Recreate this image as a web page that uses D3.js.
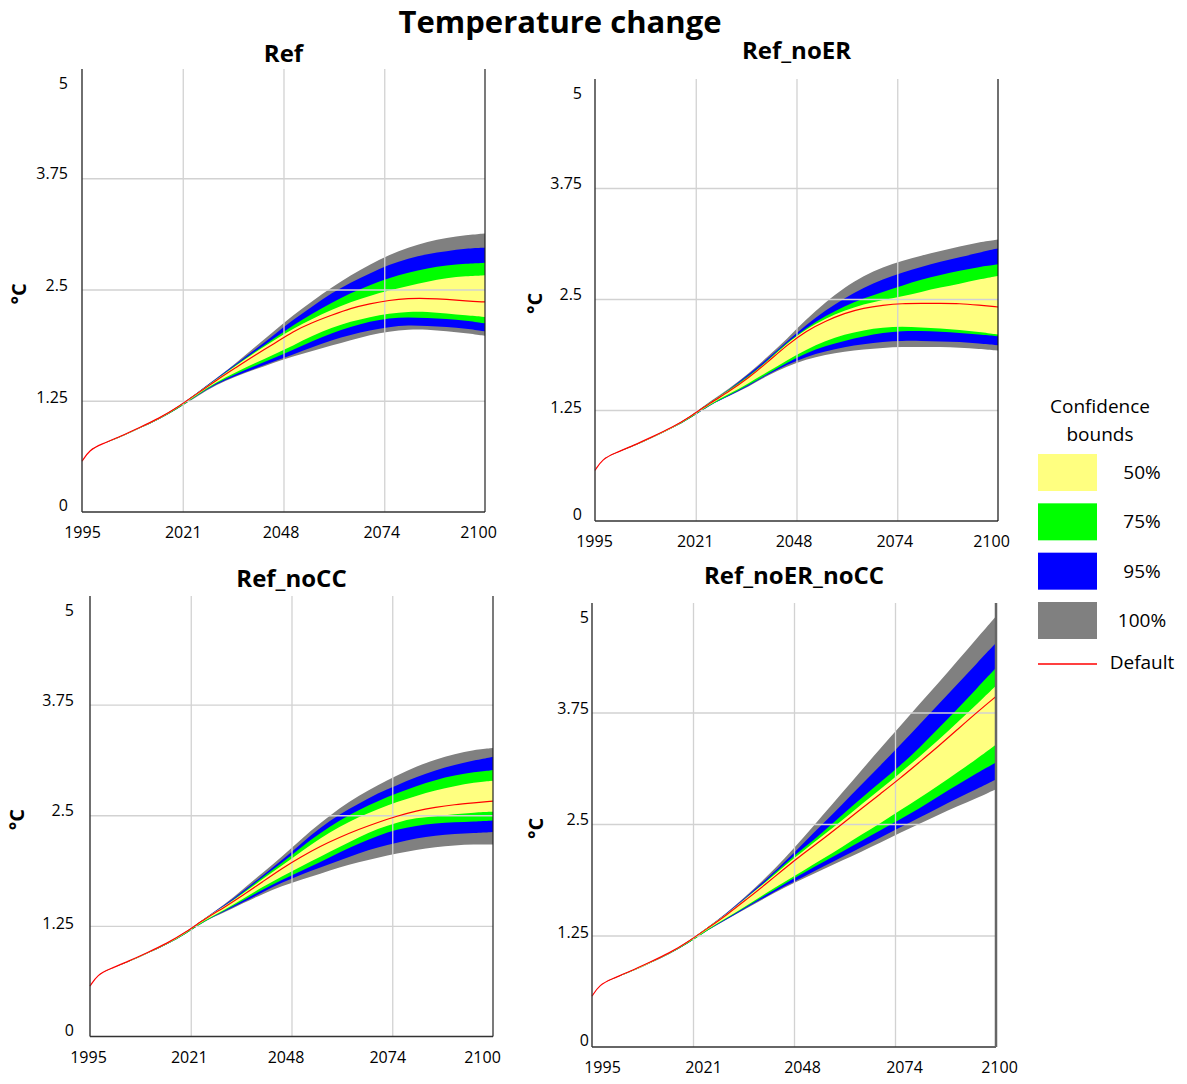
<!DOCTYPE html>
<html lang="en">
  <head>
    <meta charset="UTF-8" />
    <title>Temperature change</title>
    <style>
      body { margin: 0; background: #fff; }
      text { font-family: "Open Sans", sans-serif; fill: #000; }
    </style>
  </head>
  <body>
    <svg id="svg" width="1187" height="1084"></svg>
    <script src="https://d3js.org/d3.v7.min.js"></script>
    <script>
      // years of the sampled values (all series share them)
      const years = [1995, 1997, 2000, 2005, 2010, 2015, 2020, 2025, 2030, 2035, 2040, 2045,
        2050, 2055, 2060, 2065, 2070, 2075, 2080, 2085, 2090, 2095, 2100];

      const xTicks = [1995, 2021.25, 2047.5, 2073.75, 2100];
      const yTicks = [0, 1.25, 2.5, 3.75, 5];
      const yTickLabels = ["0", "1.25", "2.5", "3.75", "5"];

      // legend order
      const boundLabels = ["50%", "75%", "95%", "100%"];
      const boundColors = ["#ffff80", "#00ff00", "#0000ff", "#808080"];

      // Ref
      const refDefault = [0.57, 0.70, 0.76, 0.85, 0.95, 1.05, 1.18, 1.33, 1.48, 1.62, 1.76, 1.89, 2.03, 2.13, 2.21, 2.29, 2.34, 2.38, 2.40, 2.40, 2.39, 2.37, 2.36];
      const refHi100 = [0.57, 0.70, 0.76, 0.85, 0.95, 1.05, 1.18, 1.34, 1.50, 1.67, 1.85, 2.03, 2.21, 2.37, 2.52, 2.66, 2.78, 2.89, 2.97, 3.04, 3.08, 3.11, 3.13];
      const refHi95 = [0.57, 0.70, 0.76, 0.85, 0.95, 1.05, 1.18, 1.34, 1.50, 1.66, 1.82, 1.99, 2.16, 2.31, 2.46, 2.58, 2.68, 2.78, 2.85, 2.90, 2.93, 2.96, 2.97];
      const refHi75 = [0.57, 0.70, 0.76, 0.85, 0.95, 1.05, 1.18, 1.34, 1.49, 1.65, 1.80, 1.95, 2.10, 2.23, 2.35, 2.46, 2.55, 2.63, 2.69, 2.74, 2.77, 2.79, 2.80];
      const refHi50 = [0.57, 0.70, 0.76, 0.85, 0.95, 1.05, 1.18, 1.34, 1.49, 1.64, 1.79, 1.93, 2.06, 2.17, 2.27, 2.36, 2.43, 2.49, 2.54, 2.59, 2.63, 2.65, 2.66];
      const refLo50 = [0.57, 0.70, 0.76, 0.84, 0.94, 1.04, 1.17, 1.32, 1.46, 1.57, 1.67, 1.77, 1.87, 1.98, 2.07, 2.14, 2.19, 2.23, 2.25, 2.25, 2.23, 2.21, 2.19];
      const refLo75 = [0.57, 0.70, 0.76, 0.84, 0.94, 1.04, 1.16, 1.31, 1.45, 1.55, 1.64, 1.73, 1.82, 1.92, 2.01, 2.08, 2.14, 2.18, 2.19, 2.18, 2.17, 2.15, 2.12];
      const refLo95 = [0.57, 0.70, 0.76, 0.84, 0.94, 1.04, 1.16, 1.31, 1.44, 1.53, 1.61, 1.69, 1.77, 1.85, 1.93, 1.99, 2.04, 2.08, 2.10, 2.09, 2.08, 2.06, 2.03];
      const refLo100 = [0.57, 0.70, 0.76, 0.84, 0.94, 1.04, 1.16, 1.30, 1.43, 1.52, 1.60, 1.68, 1.75, 1.81, 1.87, 1.93, 1.99, 2.03, 2.05, 2.05, 2.03, 2.01, 1.98];

      // Ref_noER
      const noERDefault = [0.57, 0.70, 0.76, 0.85, 0.95, 1.05, 1.18, 1.33, 1.46, 1.61, 1.79, 1.98, 2.14, 2.25, 2.34, 2.40, 2.43, 2.45, 2.45, 2.45, 2.45, 2.43, 2.41];
      const noERHi100 = [0.57, 0.70, 0.76, 0.85, 0.95, 1.05, 1.18, 1.35, 1.49, 1.66, 1.85, 2.05, 2.27, 2.46, 2.63, 2.76, 2.86, 2.93, 2.99, 3.04, 3.09, 3.14, 3.17];
      const noERHi95 = [0.57, 0.70, 0.76, 0.85, 0.95, 1.05, 1.18, 1.34, 1.48, 1.65, 1.83, 2.02, 2.21, 2.37, 2.51, 2.63, 2.72, 2.80, 2.86, 2.92, 2.97, 3.02, 3.07];
      const noERHi75 = [0.57, 0.70, 0.76, 0.85, 0.95, 1.05, 1.18, 1.34, 1.48, 1.63, 1.81, 2.01, 2.17, 2.31, 2.42, 2.51, 2.58, 2.65, 2.72, 2.77, 2.82, 2.86, 2.89];
      const noERHi50 = [0.57, 0.70, 0.76, 0.85, 0.95, 1.05, 1.18, 1.34, 1.47, 1.62, 1.80, 2.00, 2.16, 2.28, 2.37, 2.44, 2.49, 2.53, 2.58, 2.63, 2.67, 2.72, 2.76];
      const noERLo50 = [0.57, 0.70, 0.76, 0.84, 0.94, 1.04, 1.17, 1.32, 1.43, 1.55, 1.68, 1.81, 1.93, 2.03, 2.10, 2.15, 2.18, 2.19, 2.18, 2.17, 2.15, 2.13, 2.10];
      const noERLo75 = [0.57, 0.70, 0.76, 0.84, 0.94, 1.04, 1.16, 1.31, 1.42, 1.53, 1.66, 1.78, 1.89, 1.97, 2.03, 2.08, 2.12, 2.14, 2.14, 2.13, 2.12, 2.10, 2.08];
      const noERLo95 = [0.57, 0.70, 0.76, 0.84, 0.94, 1.04, 1.16, 1.31, 1.41, 1.52, 1.65, 1.76, 1.85, 1.91, 1.96, 1.99, 2.02, 2.03, 2.03, 2.02, 2.02, 2.00, 1.98];
      const noERLo100 = [0.57, 0.70, 0.76, 0.84, 0.94, 1.04, 1.16, 1.31, 1.41, 1.51, 1.64, 1.74, 1.82, 1.87, 1.91, 1.93, 1.95, 1.96, 1.96, 1.96, 1.95, 1.94, 1.92];

      // Ref_noCC
      const noCCDefault = [0.57, 0.70, 0.76, 0.85, 0.95, 1.05, 1.18, 1.33, 1.46, 1.60, 1.75, 1.90, 2.03, 2.15, 2.25, 2.34, 2.42, 2.49, 2.55, 2.59, 2.62, 2.64, 2.66];
      const noCCHi100 = [0.57, 0.70, 0.76, 0.85, 0.95, 1.05, 1.18, 1.34, 1.49, 1.67, 1.85, 2.03, 2.23, 2.41, 2.58, 2.72, 2.84, 2.95, 3.05, 3.13, 3.19, 3.24, 3.26];
      const noCCHi95 = [0.57, 0.70, 0.76, 0.85, 0.95, 1.05, 1.18, 1.34, 1.48, 1.65, 1.82, 1.99, 2.18, 2.36, 2.51, 2.63, 2.75, 2.84, 2.93, 3.01, 3.07, 3.12, 3.16];
      const noCCHi75 = [0.57, 0.70, 0.76, 0.85, 0.95, 1.05, 1.18, 1.34, 1.47, 1.63, 1.80, 1.96, 2.14, 2.30, 2.44, 2.56, 2.66, 2.75, 2.83, 2.90, 2.95, 2.99, 3.01];
      const noCCHi50 = [0.57, 0.70, 0.76, 0.85, 0.95, 1.05, 1.18, 1.34, 1.47, 1.62, 1.78, 1.93, 2.09, 2.24, 2.37, 2.48, 2.57, 2.65, 2.72, 2.78, 2.83, 2.87, 2.89];
      const noCCLo50 = [0.57, 0.70, 0.76, 0.84, 0.94, 1.04, 1.17, 1.32, 1.43, 1.56, 1.69, 1.81, 1.92, 2.03, 2.14, 2.25, 2.35, 2.42, 2.47, 2.49, 2.51, 2.53, 2.54];
      const noCCLo75 = [0.57, 0.70, 0.76, 0.84, 0.94, 1.04, 1.16, 1.31, 1.42, 1.54, 1.66, 1.77, 1.87, 1.97, 2.08, 2.18, 2.27, 2.34, 2.38, 2.41, 2.42, 2.43, 2.44];
      const noCCLo95 = [0.57, 0.70, 0.76, 0.84, 0.94, 1.04, 1.16, 1.31, 1.41, 1.52, 1.63, 1.74, 1.83, 1.91, 1.99, 2.07, 2.14, 2.19, 2.24, 2.27, 2.29, 2.30, 2.31];
      const noCCLo100 = [0.57, 0.70, 0.76, 0.84, 0.94, 1.04, 1.16, 1.31, 1.40, 1.51, 1.61, 1.70, 1.77, 1.84, 1.91, 1.97, 2.02, 2.07, 2.11, 2.14, 2.16, 2.17, 2.17];

      // Ref_noER_noCC
      const bothDefault = [0.57, 0.70, 0.76, 0.85, 0.95, 1.05, 1.18, 1.33, 1.48, 1.65, 1.82, 2.00, 2.17, 2.33, 2.50, 2.67, 2.84, 3.01, 3.19, 3.37, 3.56, 3.75, 3.93];
      const bothHi100 = [0.57, 0.70, 0.76, 0.85, 0.95, 1.05, 1.18, 1.34, 1.50, 1.69, 1.89, 2.11, 2.35, 2.60, 2.85, 3.10, 3.35, 3.59, 3.84, 4.08, 4.33, 4.58, 4.83];
      const bothHi95 = [0.57, 0.70, 0.76, 0.85, 0.95, 1.05, 1.18, 1.34, 1.50, 1.68, 1.87, 2.07, 2.29, 2.50, 2.72, 2.94, 3.16, 3.38, 3.61, 3.84, 4.07, 4.30, 4.53];
      const bothHi75 = [0.57, 0.70, 0.76, 0.85, 0.95, 1.05, 1.18, 1.34, 1.49, 1.67, 1.85, 2.05, 2.23, 2.41, 2.60, 2.79, 2.97, 3.15, 3.35, 3.57, 3.79, 4.02, 4.25];
      const bothHi50 = [0.57, 0.70, 0.76, 0.85, 0.95, 1.05, 1.18, 1.34, 1.49, 1.67, 1.84, 2.03, 2.20, 2.37, 2.54, 2.72, 2.89, 3.07, 3.25, 3.44, 3.64, 3.84, 4.05];
      const bothLo50 = [0.57, 0.70, 0.76, 0.84, 0.94, 1.04, 1.17, 1.32, 1.45, 1.58, 1.72, 1.85, 1.98, 2.11, 2.24, 2.38, 2.51, 2.65, 2.79, 2.93, 3.08, 3.23, 3.39];
      const bothLo75 = [0.57, 0.70, 0.76, 0.84, 0.94, 1.04, 1.16, 1.31, 1.44, 1.57, 1.70, 1.83, 1.95, 2.07, 2.19, 2.31, 2.43, 2.55, 2.67, 2.81, 2.94, 3.07, 3.19];
      const bothLo95 = [0.57, 0.70, 0.76, 0.84, 0.94, 1.04, 1.16, 1.31, 1.43, 1.56, 1.68, 1.80, 1.91, 2.02, 2.13, 2.24, 2.35, 2.46, 2.57, 2.68, 2.79, 2.89, 3.00];
      const bothLo100 = [0.57, 0.70, 0.76, 0.84, 0.94, 1.04, 1.16, 1.31, 1.43, 1.55, 1.67, 1.79, 1.89, 1.99, 2.09, 2.19, 2.29, 2.40, 2.50, 2.60, 2.70, 2.79, 2.89];

      // panel layout (bands listed widest first so the narrow ones sit on top)
      const panels = [
        { title: "Ref", def: refDefault,
          lo: [refLo100, refLo95, refLo75, refLo50], hi: [refHi100, refHi95, refHi75, refHi50],
          x0: 82, x1: 485, yBot: 512, y5: 67, titleY: 62, unitDx: -63, labelGap: 14,
          xShift: [0, 0, -3, -3, -7], rightColor: "#222", rightWidth: 1.2 },
        { title: "Ref_noER", def: noERDefault,
          lo: [noERLo100, noERLo95, noERLo75, noERLo50], hi: [noERHi100, noERHi95, noERHi75, noERHi50],
          x0: 595, x1: 998, yBot: 521, y5: 77, titleY: 59, unitDx: -60, labelGap: 13,
          xShift: [-1, -1, -3, -3, -7], rightColor: "#111", rightWidth: 1.2 },
        { title: "Ref_noCC", def: noCCDefault,
          lo: [noCCLo100, noCCLo95, noCCLo75, noCCLo50], hi: [noCCHi100, noCCHi95, noCCHi75, noCCHi50],
          x0: 90, x1: 493, yBot: 1036.5, y5: 594, titleY: 587, unitDx: -73, labelGap: 16,
          xShift: [-2, -2, -6, -5, -11], rightColor: "#222", rightWidth: 1.2 },
        { title: "Ref_noER_noCC", def: bothDefault,
          lo: [bothLo100, bothLo95, bothLo75, bothLo50], hi: [bothHi100, bothHi95, bothHi75, bothHi50],
          x0: 592, x1: 996, yBot: 1047, y5: 601, titleY: 584, unitDx: -56, labelGap: 3,
          xShift: [10, 10, 8, 9, 3], rightColor: "#666", rightWidth: 2.5 }
      ];

      // label nudges from the tick position (0 .. 5)
      const yLabelDy = [-6.5, -3, -4.5, -4.5, 16];
      const bandFills = [boundColors[3], boundColors[2], boundColors[1], boundColors[0]];

      const svg = d3.select("#svg");
      svg.append("rect").attr("width", 1187).attr("height", 1084).attr("fill", "#fff");

      svg.append("text")
        .attr("x", 560).attr("y", 32.5)
        .attr("text-anchor", "middle")
        .attr("font-size", 31).attr("font-weight", "bold")
        .text("Temperature change");

      panels.forEach((p) => {
        const x = d3.scaleLinear().domain([1995, 2100]).range([p.x0, p.x1]);
        const y = d3.scaleLinear().domain([0, 5]).range([p.yBot, p.y5]);
        const top = p.y5 + 2;
        const g = svg.append("g");

        // confidence bands
        p.lo.forEach((lo, i) => {
          const area = d3.area()
            .x((d, k) => x(years[k]))
            .y0((d, k) => y(lo[k]))
            .y1((d, k) => y(p.hi[i][k]))
            .curve(d3.curveBasis);
          g.append("path").attr("d", area(years)).attr("fill", bandFills[i]);
        });

        // grid lines (drawn over the bands, as in the original)
        g.append("g")
          .attr("transform", `translate(0, ${p.yBot})`)
          .call(d3.axisBottom(x).tickValues(xTicks.slice(1, 4)).tickSize(-(p.yBot - top)).tickFormat(""))
          .call((a) => a.select(".domain").remove())
          .selectAll("line").attr("stroke", "#d2d2d2").attr("stroke-width", 1.3);
        g.append("g")
          .attr("transform", `translate(${p.x0}, 0)`)
          .call(d3.axisLeft(y).tickValues(yTicks.slice(1, 4)).tickSize(-(p.x1 - p.x0)).tickFormat(""))
          .call((a) => a.select(".domain").remove())
          .selectAll("line").attr("stroke", "#d2d2d2").attr("stroke-width", 1.3);

        // default run
        const line = d3.line()
          .x((d, k) => x(years[k]))
          .y((d) => y(d))
          .curve(d3.curveBasis);
        g.append("path").attr("d", line(p.def))
          .attr("fill", "none").attr("stroke", "#ff0000").attr("stroke-width", 1.2);

        // frame
        g.append("line").attr("x1", p.x0).attr("x2", p.x0).attr("y1", top).attr("y2", p.yBot)
          .attr("stroke", "#333").attr("stroke-width", 1.4);
        g.append("line").attr("x1", p.x0).attr("x2", p.x1).attr("y1", p.yBot).attr("y2", p.yBot)
          .attr("stroke", "#333").attr("stroke-width", 1.4);
        g.append("line").attr("x1", p.x1).attr("x2", p.x1).attr("y1", top).attr("y2", p.yBot)
          .attr("stroke", p.rightColor).attr("stroke-width", p.rightWidth);

        // tick labels
        const xa = g.append("g")
          .attr("transform", `translate(0, ${p.yBot})`)
          .call(d3.axisBottom(x).tickValues(xTicks).tickSize(0).tickPadding(15)
            .tickFormat((d) => Math.round(d)));
        xa.select(".domain").remove();
        xa.attr("font-family", null).attr("font-size", null);
        xa.selectAll("text").attr("font-size", 16).attr("fill", "#000")
          .attr("dx", (d, i) => p.xShift[i]);

        const ya = g.append("g")
          .attr("transform", `translate(${p.x0}, 0)`)
          .call(d3.axisLeft(y).tickValues(yTicks).tickSize(0).tickPadding(p.labelGap)
            .tickFormat((d, i) => yTickLabels[i]));
        ya.select(".domain").remove();
        ya.attr("font-family", null).attr("font-size", null);
        ya.selectAll("text").attr("font-size", 16).attr("fill", "#000")
          .attr("y", (d, i) => yLabelDy[i]);

        // panel title and unit
        g.append("text")
          .attr("x", (p.x0 + p.x1) / 2).attr("y", p.titleY)
          .attr("text-anchor", "middle")
          .attr("font-size", 24).attr("font-weight", "bold")
          .text(p.title);
        g.append("text")
          .attr("transform", `translate(${p.x0 + p.unitDx}, ${y(2.45)}) rotate(-90)`)
          .attr("text-anchor", "middle").attr("dy", "0.35em")
          .attr("font-size", 20).attr("font-weight", "bold")
          .text("°C");
      });

      // legend
      const legend = svg.append("g");
      legend.append("text").attr("x", 1100).attr("y", 413).attr("text-anchor", "middle")
        .attr("font-size", 19).text("Confidence");
      legend.append("text").attr("x", 1100).attr("y", 441).attr("text-anchor", "middle")
        .attr("font-size", 19).text("bounds");

      const ly = d3.scaleLinear().domain([0, 3]).range([454, 602]);
      legend.selectAll("rect.sw")
        .data(boundLabels)
        .join("rect")
        .attr("class", "sw")
        .attr("x", 1038).attr("y", (d, i) => ly(i))
        .attr("width", 59).attr("height", 37)
        .attr("fill", (d, i) => boundColors[i]);
      legend.selectAll("text.lab")
        .data(boundLabels)
        .join("text")
        .attr("class", "lab")
        .attr("x", 1142).attr("y", (d, i) => ly(i) + 25)
        .attr("text-anchor", "middle").attr("font-size", 19)
        .text((d) => d);

      legend.append("line").attr("x1", 1038).attr("x2", 1097).attr("y1", 664).attr("y2", 664)
        .attr("stroke", "#ff0000").attr("stroke-width", 1.5);
      legend.append("text").attr("x", 1142).attr("y", 669).attr("text-anchor", "middle")
        .attr("font-size", 19).text("Default");
    </script>
  </body>
</html>
